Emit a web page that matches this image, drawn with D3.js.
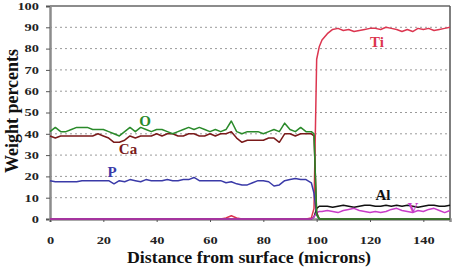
<!DOCTYPE html>
<html>
<head>
<meta charset="utf-8">
<script src="https://cdn.jsdelivr.net/npm/d3@7"></script>
<style>
  body { margin: 0; background: #fff; }
  svg { display: block; }
  text { font-family: "Liberation Serif", "DejaVu Serif", serif; font-weight: bold; }
</style>
</head>
<body>
<svg id="chart" width="454" height="268"></svg>
<script>
const distance = [0,2,4,6,8,10,12,14,16,18,20,22,24,26,28,30,32,34,36,38,40,42,44,46,48,50,52,54,56,58,60,62,64,66,68,70,72,74,76,78,80,82,84,86,88,90,92,94,96,98,99,100,101,102,104,106,108,110,112,114,116,118,120,122,124,126,128,130,132,134,136,138,140,142,144,146,148,150];

const oxygen = [41,43,41,41,42,43,43,43,42,42,42,41,40,39,41,43,41,43,42,41,42,42,41,40,41,42,43,42,43,42,41,42,41,42,46,41,40,41,41,41,40,41,42,41,45,42,41,43,41,41,40,2,0,0,0,0,0,0,0,0,0,0,0,0,0,0,0,0,0,0,0,0,0,0,0,0,0,0];
const calcium = [39,38,39,39,39,39,39,39,39,40,39,38,36,36,37,39,38,39,39,39,40,39,40,40,39,39,40,40,39,39,40,39,40,40,41,38,36,37,37,37,37,38,38,36,40,40,39,40,40,40,39,3,0,0,0,0,0,0,0,0,0,0,0,0,0,0,0,0,0,0,0,0,0,0,0,0,0,0];
const phosphorus = [18,17.5,17.5,17.5,17.5,17.5,18,18,18,18,18,18,16.5,18,17.5,18.5,18,17.5,18.5,18,18,18,18.5,18,18,18.5,18.5,19.5,18,18,18,18,18,17,17.5,16.5,16,16,17,18,18,17.5,15.5,16,18,18.5,19,18.5,18.5,17,12,2,0,0,0,0,0,0,0,0,0,0,0,0,0,0,0,0,0,0,0,0,0,0,0,0,0,0];
const titanium = [0,0,0,0,0,0,0,0,0,0,0,0,0,0,0,0,0,0,0,0,0,0,0,0,0,0,0,0,0,0,0,0,0,0.5,1.5,0.5,0,0,0,0,0,0,0,0,0,0,0,0,0,0.5,5,75,81,84,87,89,89.5,88.5,89,88,88.5,89,89.5,89.5,89,90,89.5,89,88,89,88,89.5,89,89.5,88.5,89,89.5,90];
const aluminium = [0,0,0,0,0,0,0,0,0,0,0,0,0,0,0,0,0,0,0,0,0,0,0,0,0,0,0,0,0,0,0,0,0,0,0,0,0,0,0,0,0,0,0,0,0,0,0,0,0,0,1,5,6,6,6,5.5,6,6.5,6,5.5,6,6.5,6.5,6,6,6.5,6,6.5,6,6.5,6,5.5,6,6.5,6.5,6,6,6.5];
const vanadium = [0,0,0,0,0,0,0,0,0,0,0,0,0,0,0,0,0,0,0,0,0,0,0,0,0,0,0,0,0,0,0,0,0,0,0,0,0,0,0,0,0,0,0,0,0,0,0,0,0,0,1,3,3.5,3.5,4,3.5,3,4,4.5,5,4,3.5,3,3.5,3,3.5,4.5,5,4,3.5,3,4,3.5,4.5,5,4,3,4];

const elements = ["Ti", "Al", "V", "P", "Ca", "O"];
const seriesValues = [titanium, aluminium, vanadium, phosphorus, calcium, oxygen];
const xTicks = [0, 20, 40, 60, 80, 100, 120, 140];
const yTicks = [0, 10, 20, 30, 40, 50, 60, 70, 80, 90, 100];

const colors = {Ti: "#dc3650", Al: "#111111", V: "#c83cc8", P: "#3a3aa8", Ca: "#7a1a1a", O: "#2a8a2a"};
const labelPos = {O: [145, 126], Ca: [128, 154], P: [112, 177], Ti: [377, 47], Al: [383, 200], V: [413, 213]};

const svg = d3.select("#chart");
const plotLeft = 50, plotRight = 450, plotTop = 6, plotBottom = 219;

const x = d3.scaleLinear().domain([0, 150]).range([plotLeft, plotRight]);
const y = d3.scaleLinear().domain([0, 100]).range([plotBottom, plotTop]);

// dotted grid
svg.append("g")
    .selectAll("line")
    .data(yTicks.filter(d => d > 0 && d < 100))
    .join("line")
    .attr("x1", plotLeft)
    .attr("x2", plotRight)
    .attr("y1", d => y(d))
    .attr("y2", d => y(d))
    .attr("stroke", "#9a9a9a")
    .attr("stroke-width", 1)
    .attr("stroke-dasharray", "2,3");

// frame
svg.append("line").attr("x1", plotLeft).attr("x2", plotRight).attr("y1", plotTop).attr("y2", plotTop)
    .attr("stroke", "#8c8c8c").attr("stroke-width", 2);
svg.append("line").attr("x1", plotRight).attr("x2", plotRight).attr("y1", plotTop).attr("y2", plotBottom)
    .attr("stroke", "#555").attr("stroke-width", 1.5);

const yAxis = svg.append("g")
    .attr("transform", `translate(${plotLeft},0)`)
    .call(d3.axisLeft(y).tickValues(yTicks).tickSize(4).tickPadding(7));
const xAxis = svg.append("g")
    .attr("transform", `translate(0,${plotBottom})`)
    .call(d3.axisBottom(x).tickValues(xTicks).tickSize(3).tickPadding(15));

// tick labels in the original are stretched sideways
[xAxis, yAxis].forEach(a => {
    a.select(".domain").attr("stroke", "#8c8c8c").attr("stroke-width", 2.5);
    a.selectAll(".tick line").attr("stroke", "#555");
    a.selectAll("text")
        .attr("fill", "#222")
        .style("font-size", "10.5px")
        .attr("textLength", d => String(d).length * 7.2)
        .attr("lengthAdjust", "spacingAndGlyphs");
});

const line = d3.line()
    .x(d => x(d[0]))
    .y(d => y(d[1]));

svg.append("g")
    .selectAll("path")
    .data(elements.map((el, i) => ({el, pts: distance.map((d, j) => [d, seriesValues[i][j]])})))
    .join("path")
    .attr("fill", "none")
    .attr("stroke", d => colors[d.el])
    .attr("stroke-width", 1.5)
    .attr("stroke-linejoin", "round")
    .attr("d", d => line(d.pts));

svg.append("g")
    .selectAll("text")
    .data(elements)
    .join("text")
    .attr("x", d => labelPos[d][0])
    .attr("y", d => labelPos[d][1])
    .attr("text-anchor", "middle")
    .attr("fill", d => colors[d])
    .style("font-size", "15px")
    .text(d => d);

svg.append("text")
    .attr("transform", "translate(249,263) scale(1.08,1)")
    .attr("text-anchor", "middle")
    .attr("fill", "#111")
    .style("font-size", "16.5px")
    .text("Distance from surface (microns)");

svg.append("text")
    .attr("transform", "translate(18,111) rotate(-90)")
    .attr("text-anchor", "middle")
    .attr("fill", "#111")
    .style("font-size", "18px")
    .text("Weight percents");
</script>
</body>
</html>
